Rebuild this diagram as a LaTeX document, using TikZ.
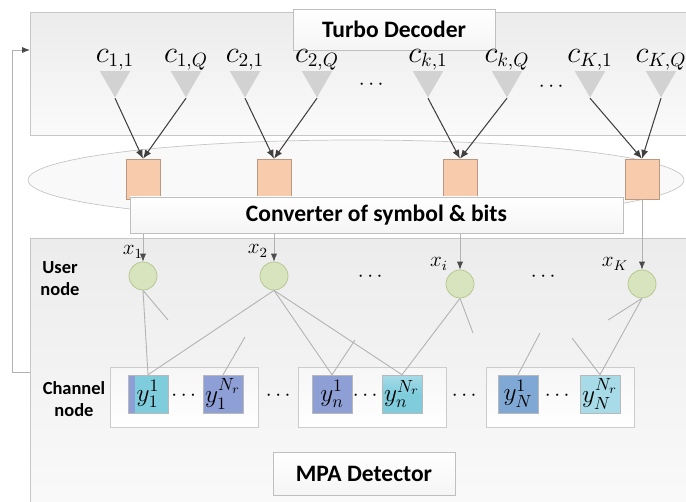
\documentclass[tikz,border=0pt]{standalone}
\usepackage{amsmath}
\usepackage{fontspec}
\setsansfont{Carlito}
\usetikzlibrary{arrows.meta,positioning,shapes.geometric}

\definecolor{peach}{HTML}{F8CBAD}
\definecolor{usergreen}{HTML}{D7E4BD}
\definecolor{userline}{HTML}{B3C48E}
\definecolor{chcyan}{HTML}{7FCCDD}
\definecolor{chlight}{HTML}{A6DBE7}
\definecolor{chblue}{HTML}{8E9FD6}
\definecolor{chsteel}{HTML}{80A8D4}

\tikzset{
  bigbox/.style={draw=gray!45, top color=gray!15, bottom color=gray!4, inner sep=0pt},
  titlebox/.style={draw=gray!50, top color=white, bottom color=gray!8, inner sep=0pt,
    font=\sffamily\bfseries\fontsize{13.4}{16}\selectfont},
  sidelbl/.style={align=center, inner sep=0pt, font=\sffamily\bfseries\fontsize{10.5}{12.5}\selectfont},
  bittri/.style={regular polygon, regular polygon sides=3, shape border rotate=180,
    fill=gray!35, inner sep=0pt, minimum size=0.7cm},
  clbl/.style={inner sep=0pt, font=\fontsize{16}{18}\selectfont},
  symsq/.style={fill=peach, draw=peach!75!black, line width=0.3pt,
    minimum width=0.68cm, minimum height=0.8cm, inner sep=0pt},
  usernode/.style={circle, fill=usergreen, draw=userline, minimum size=0.56cm, inner sep=0pt},
  xlbl/.style={inner sep=0pt, font=\fontsize{12}{14}\selectfont},
  grpbox/.style={draw=gray!40, top color=gray!7, bottom color=white,
    minimum width=2.96cm, minimum height=1.2cm, inner sep=0pt},
  chsq/.style={draw=gray!55, line width=0.3pt, minimum width=0.8cm, minimum height=0.76cm,
    inner sep=0pt, font=\fontsize{14}{16}\selectfont},
  dotsl/.style={inner sep=0pt, font=\fontsize{12}{14}\selectfont},
  bitarrow/.style={draw=black!75, line width=0.6pt, -{Latex[length=5pt,width=4pt]}},
  downarrow/.style={draw=gray!60, line width=0.5pt, -{Latex[length=4.5pt,width=3.5pt,color=black!70]}},
  link/.style={draw=gray!60, line width=0.5pt},
}

\begin{document}
\begin{tikzpicture}[x=0.02cm,y=-0.02cm]
    \useasboundingbox (0,0) rectangle (686,502);

    % turbo decoder
    \node[bigbox, minimum width=13.32cm, minimum height=2.46cm] (turbo) at (363,73.5) {};
    \node[titlebox, minimum width=4.04cm, minimum height=0.82cm] (turbotitle) at (394,29.5) {Turbo Decoder};

    \foreach \name/\xx in {t11/115,t1q/186,t21/245,t2q/317,tk1/428,tkq/507,tK1/590,tKQ/661}
    \node[bittri] (\name) at (\xx,80) {};

    \node[clbl, above=0pt of t11] (c11) {$c_{1,1}$};
    \node[clbl, above=0pt of t1q] (c1q) {$c_{1,Q}$};
    \node[clbl, above=0pt of t21] (c21) {$c_{2,1}$};
    \node[clbl, above=0pt of t2q] (c2q) {$c_{2,Q}$};
    \node[clbl, above=0pt of tk1] (ck1) {$c_{k,1}$};
    \node[clbl, above=0pt of tkq] (ckq) {$c_{k,Q}$};
    \node[clbl, above=0pt of tK1] (cK1) {$c_{K,1}$};
    \node[clbl, above=0pt of tKQ] (cKQ) {$c_{K,Q}$};

    \node[dotsl] (tdots1) at (373,85) {$\cdots$};
    \node[dotsl] (tdots2) at (553,87) {$\cdots$};

    % converter
    \node[ellipse, draw=gray!45, fill=gray!5, minimum width=13.12cm, minimum height=1.6cm] (conv) at (356,180) {};

    % MPA detector
    \node[bigbox, minimum width=13.32cm, minimum height=5.5cm] (mpa) at (363,375.5) {};

    \foreach \name/\xx in {s1/143,s2/274,s3/460,s4/642}
    \node[symsq] (\name) at (\xx,179) {};

    \foreach \from/\to in {t11/s1,t1q/s1,t21/s2,t2q/s2,tk1/s3,tkq/s3,tK1/s4,tKQ/s4}
    \draw[bitarrow] (\from.south) -- (\to.north);

    \node[usernode] (x1) at (143,276) {};
    \node[usernode] (x2) at (274,276) {};
    \node[usernode] (xi) at (460,284) {};
    \node[usernode] (xK) at (642,284) {};

    \foreach \from/\to in {s1/x1,s2/x2,s3/xi,s4/xK}
    \draw[downarrow] (\from.south) -- (\to.north);

    \node[titlebox, minimum width=9.86cm, minimum height=0.72cm] (convtitle) at (376.5,215) {Converter of symbol \& bits};

    \node[xlbl] (lx1) at (133,252) {$x_1$};
    \node[xlbl] (lx2) at (258,251) {$x_2$};
    \node[xlbl] (lxi) at (439,264) {$x_i$};
    \node[xlbl] (lxK) at (615,264) {$x_K$};

    \node[dotsl] (udots1) at (372,277) {$\cdots$};
    \node[dotsl] (udots2) at (545,277) {$\cdots$};

    \node[sidelbl] (userlabel) at (60,279) {User\\node};
    \node[sidelbl] (chlabel) at (74,399) {Channel\\node};

    % channel nodes
    \node[grpbox] (g1) at (184,397) {};
    \node[grpbox] (g2) at (372,397) {};
    \node[grpbox] (g3) at (560,397) {};

    \node[chsq, fill=chcyan, path picture={\fill[chblue] (path picture bounding box.south west)
      rectangle ([xshift=0.14cm]path picture bounding box.north west);}] (y11) at (148,394) {$y_1^1$};
    \node[chsq, fill=chblue] (y1N) at (223,394) {$y_1^{N_r}$};
    \node[chsq, fill=chblue] (yn1) at (332,394) {$y_n^1$};
    \node[chsq, top color=chlight, bottom color=chcyan, middle color=chcyan] (ynN) at (402,394) {$y_n^{N_r}$};
    \node[chsq, fill=chsteel] (yN1) at (518,394) {$y_N^1$};
    \node[chsq, fill=chlight] (yNN) at (600,394) {$y_N^{N_r}$};

    \node[dotsl] (cdots1) at (185.5,396) {$\cdots$};
    \node[dotsl] (cdots2) at (280,396) {$\cdots$};
    \node[dotsl] (cdots3) at (367,396) {$\cdots$};
    \node[dotsl] (cdots4) at (466,396) {$\cdots$};
    \node[dotsl] (cdots5) at (559,396) {$\cdots$};

    % edges of the factor graph
    \foreach \from/\to in {x1/y11,x2/y11,x2/yn1,x2/ynN,xi/ynN,xK/yNN}
    \draw[link] (\from.south) -- (\to.north);

    % loose edge ends
    \coordinate (st1) at (168,320);
    \coordinate (st2) at (245,337);
    \coordinate (st3) at (355,340);
    \coordinate (st4) at (473,333);
    \coordinate (st5) at (540,333);
    \coordinate (st6) at (572,338);
    \coordinate (st7) at (608,320);
    \foreach \from/\to in {x1.south/st1,y1N.north/st2,yn1.north/st3,xi.south/st4,yN1.north/st5,yNN.north/st6,xK.south/st7}
    \draw[link] (\from) -- (\to);

    \node[titlebox, minimum width=3.64cm, minimum height=0.86cm] (mpatitle) at (364,473.5) {MPA Detector};

    % feedback
    \coordinate (fbout) at (30,372);
    \coordinate (fbcorner) at (12,372);
    \coordinate (fbin) at (30,50);
    \draw[downarrow] (fbout) -- (fbcorner) |- (fbin);
\end{tikzpicture}
\end{document}
